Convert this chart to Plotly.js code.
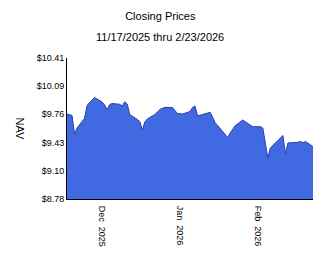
<!DOCTYPE html>
<html>
<head>
<meta charset="utf-8">
<script src="https://cdn.plot.ly/plotly-3.0.1.min.js"></script>
<style>
html,body{margin:0;padding:0;background:#fff;}
#chart{width:324px;height:267px;}
</style>
</head>
<body>
<div id="chart"></div>
<script>
var dates = [
  "2025-11-17","2025-11-18","2025-11-19","2025-11-20","2025-11-21","2025-11-24","2025-11-25","2025-11-26","2025-11-28",
  "2025-12-01","2025-12-02","2025-12-03","2025-12-04","2025-12-05","2025-12-08","2025-12-09","2025-12-10","2025-12-11","2025-12-12",
  "2025-12-15","2025-12-16","2025-12-17","2025-12-18","2025-12-19","2025-12-22","2025-12-23","2025-12-24","2025-12-26",
  "2025-12-29","2025-12-30","2025-12-31",
  "2026-01-02","2026-01-05","2026-01-06","2026-01-07","2026-01-08","2026-01-09","2026-01-12","2026-01-13","2026-01-14",
  "2026-01-15","2026-01-16","2026-01-20","2026-01-21","2026-01-22","2026-01-23","2026-01-26","2026-01-27","2026-01-28",
  "2026-01-29","2026-01-30",
  "2026-02-02","2026-02-03","2026-02-04","2026-02-05","2026-02-06","2026-02-09","2026-02-10","2026-02-11","2026-02-12",
  "2026-02-13","2026-02-17","2026-02-18","2026-02-19","2026-02-20","2026-02-23"
];
var nav = [
  9.763, 9.751, 9.745, 9.531, 9.601, 9.713, 9.861, 9.896, 9.953,
  9.901, 9.867, 9.815, 9.872, 9.884, 9.875, 9.855, 9.905, 9.878, 9.757,
  9.699, 9.676, 9.578, 9.670, 9.705, 9.757, 9.786, 9.815, 9.840,
  9.838, 9.803, 9.768,
  9.763, 9.791, 9.838, 9.855, 9.743, 9.748, 9.774, 9.782, 9.728,
  9.662, 9.630, 9.491, 9.543, 9.589, 9.627, 9.693, 9.670, 9.653,
  9.635, 9.616,
  9.616, 9.601, 9.427, 9.254, 9.370, 9.450, 9.485, 9.514, 9.306,
  9.427, 9.435, 9.445, 9.431, 9.445, 9.385
];
var yTickVals = [8.78, 9.10, 9.43, 9.76, 10.09, 10.41];
var yTickText = ["$8.78", "$9.10", "$9.43", "$9.76", "$10.09", "$10.41"];
var xTickVals = ["2025-12-01", "2026-01-01", "2026-02-01"];
var xTickText = ["Dec\u00A0 2025", "Jan\u00A0 2026", "Feb\u00A0 2026"];
var chartTitle = "Closing Prices";
var subTitle = "11/17/2025 thru 2/23/2026";
var yTitle = "NAV";

var font = "Liberation Sans, Arial, sans-serif";

var trace = {
  x: dates, y: nav, type: "scatter", mode: "lines",
  fill: "tozeroy", fillcolor: "#4169E1",
  line: {color: "#2443a8", width: 1},
  hoverinfo: "skip"
};

var layout = {
  width: 324, height: 267,
  margin: {l: 67, r: 11, t: 58, b: 68},
  paper_bgcolor: "#fff", plot_bgcolor: "#fff",
  showlegend: false,
  font: {family: font, size: 9, color: "#000"},
  title: {text: chartTitle, font: {family: font, size: 11, color: "#000"},
          x: 160.3 / 324, xref: "container", xanchor: "center", y: 1 - 16/267, yref: "container", yanchor: "middle"},
  xaxis: {
    type: "date", range: ["2025-11-17", "2026-02-23"],
    tickmode: "array", tickvals: xTickVals, ticktext: xTickText,
    tickangle: 90, ticks: "", showgrid: false, zeroline: false,
    showline: true, linecolor: "#000", linewidth: 1, ticklabelstandoff: 4,
    tickfont: {family: font, size: 9, color: "#000"}, fixedrange: true
  },
  yaxis: {
    range: [8.78, 10.41], tickmode: "array", tickvals: yTickVals, ticktext: yTickText,
    ticks: "", showgrid: false, zeroline: false,
    showline: true, linecolor: "#000", linewidth: 1,
    tickfont: {family: font, size: 9, color: "#000"}, fixedrange: true
  },
  annotations: [
    {text: subTitle, xref: "paper", yref: "paper", x: (160.3 - 67) / 246, y: (199 - 37) / 141,
     xanchor: "center", yanchor: "middle", showarrow: false, font: {family: font, size: 11, color: "#000"}},
    {text: yTitle, xref: "paper", yref: "paper", x: (20 - 67) / 246, y: 0.5, textangle: 90,
     xanchor: "center", yanchor: "middle", showarrow: false, font: {family: font, size: 11, color: "#000"}}
  ]
};

Plotly.newPlot("chart", [trace], layout, {displayModeBar: false, staticPlot: true});
</script>
</body>
</html>
